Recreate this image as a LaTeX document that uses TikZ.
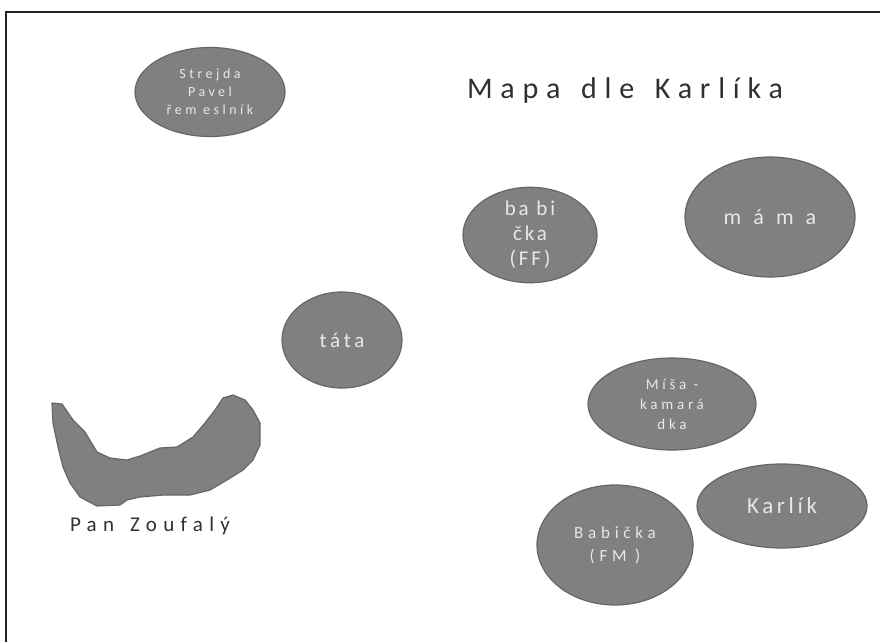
\documentclass[tikz,border=0pt]{standalone}
\usepackage{fontspec}
\setmainfont{Carlito}
\usetikzlibrary{shapes.geometric}
\definecolor{blobfill}{HTML}{808080}
\definecolor{blobline}{HTML}{666666}
\definecolor{blobtext}{HTML}{E8E8E8}
\definecolor{inktext}{HTML}{303030}
\definecolor{framec}{HTML}{222222}
\begin{document}
\begin{tikzpicture}[x=1pt,y=-1pt,
  person/.style={ellipse, fill=blobfill, draw=blobline, line width=1.2pt,
    text=blobtext, align=center, inner sep=0pt},
  ink/.style={text=inktext}]
\useasboundingbox (0,0) rectangle (880,642);
\fill[white] (0,0) rectangle (880,642);
\draw[framec, line width=2pt] (6,642) -- (6,12.5) -- (880,12.5);

\node[person, minimum width=150, minimum height=89,
  font=\fontsize{14}{18}\selectfont\addfontfeature{LetterSpace=25}] (strejda) at (210,92)
  {Strejda\\Pavel\\řem eslník};

\node[ink, font=\fontsize{30}{34}\selectfont\addfontfeature{LetterSpace=26}] (title) at (625,91)
  {Mapa\hspace{6pt} dle\hspace{6pt} Karlíka};

\node[person, minimum width=134, minimum height=85,
  font=\fontsize{21}{25}\selectfont\addfontfeature{LetterSpace=14}] (babiff) at (530,235)
  {ba bi\\čka\\(FF)};

\node[person, minimum width=170, minimum height=120,
  font=\fontsize{22}{24}\selectfont\addfontfeature{LetterSpace=55}] (mama) at (770,217)
  {máma};

\node[person, minimum width=120, minimum height=96,
  font=\fontsize{21}{24}\selectfont\addfontfeature{LetterSpace=18}] (tata) at (342,340)
  {táta};

\node[person, minimum width=168, minimum height=92,
  font=\fontsize{15}{20}\selectfont\addfontfeature{LetterSpace=25}] (misa) at (672,404)
  {Míša -\\kamará\\dka};

\node[person, minimum width=156, minimum height=120,
  font=\fontsize{17}{23}\selectfont\addfontfeature{LetterSpace=28}] (babifm) at (615,545)
  {Babička\\(FM )};

\node[person, minimum width=170, minimum height=84,
  font=\fontsize{23}{26}\selectfont\addfontfeature{LetterSpace=16}] (karlik) at (782,506)
  {Karlík};

\fill[blobfill, draw=blobline, line width=1.2pt, line join=round]
  (52,403) -- (62,404) -- (73,420) -- (85,432) -- (97,452) -- (110,458) -- (127,460)
  -- (140,456) -- (160,448) -- (177,447) -- (193,437) -- (205,423) -- (215,410)
  -- (223,398) -- (233,395) -- (245,400) -- (253,410) -- (260,423) -- (260,445)
  -- (253,460) -- (243,470) -- (227,480) -- (210,490) -- (190,495) -- (163,495)
  -- (140,497) -- (127,500) -- (120,505) -- (97,506) -- (80,497) -- (70,483)
  -- (63,467) -- (58,447) -- (53,423) -- cycle;

\node[ink, font=\fontsize{21}{24}\selectfont\addfontfeature{LetterSpace=30}] (zoufaly) at (150,526)
  {Pan\hspace{5pt} Zoufalý};
\end{tikzpicture}
\end{document}
